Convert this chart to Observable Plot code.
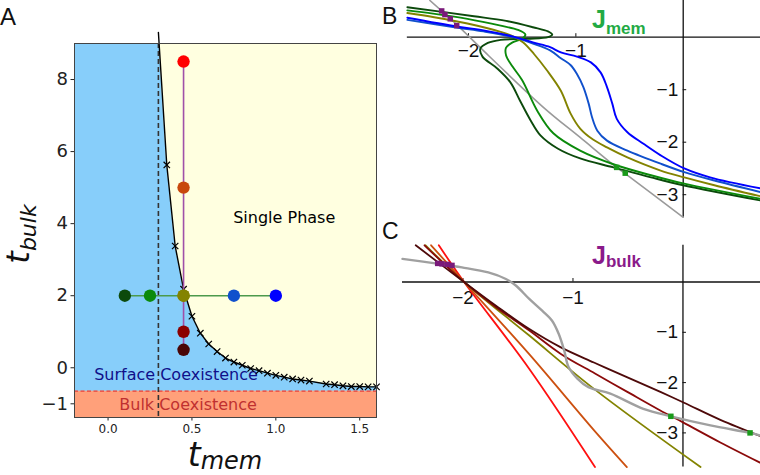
<!DOCTYPE html>
<html><head><meta charset="utf-8">
<script src="https://cdn.jsdelivr.net/npm/d3@7"></script>
<script src="https://cdn.jsdelivr.net/npm/@observablehq/plot@0.6"></script>
<style>
html,body{margin:0;padding:0;background:#fff;}
#fig{position:relative;width:760px;height:475px;overflow:hidden;background:#fff;}
</style></head><body><div id="fig"></div>
<script>
// ---------------- Panel A data ----------------
const xDomainA = [-0.2, 1.6];
const yDomainA = [-1.38, 9];
const xTicksA = [0, 0.5, 1.0, 1.5];
const yTicksA = [-1, 0, 2, 4, 6, 8];
const memCritical = 0.3;      // vertical dashed line
const bulkCritical = -0.65;   // bulk coexistence boundary
const boundaryX = [0.30,0.35,0.40,0.45,0.50,0.55,0.60,0.65,0.70,0.75,0.80,0.85,0.90,0.95,1.00,1.05,1.10,1.15,1.20,1.30,1.35,1.40,1.45,1.50,1.55,1.60];
const boundaryY = [9.31,5.63,3.38,2.18,1.43,0.96,0.66,0.45,0.27,0.16,0.07,-0.02,-0.08,-0.15,-0.21,-0.26,-0.31,-0.34,-0.37,-0.45,-0.47,-0.50,-0.52,-0.52,-0.53,-0.53];
const sweepTbulk = 2;                        // horizontal sweep at t_bulk = 2
const tmemSweep = [0.1, 0.25, 0.45, 0.75, 1.0];
const sweepTmem = 0.45;                      // vertical sweep at t_mem = 0.45
const tbulkSweep = [8.5, 5, 2, 1, 0.5];
const regionLabels = ["Single Phase", "Surface Coexistence", "Bulk Coexistence"];
const regionLabelX = [1.05, 0.405, 0.477];
const regionLabelY = [4.15, -0.19, -1.03];

// ---------------- Panel B data (J_mem) ----------------
const bXTicks = [-2, -1];
const bYTicks = [-1, -2, -3];
const bXRange = [-2.57, 0.72];
const bYRange = [-3.43, 0.70];
const bDarkGreen = [[-2.57,0.57],[-1.95,0.40],[-1.65,0.31],[-1.40,0.19],[-1.26,0.11],[-1.22,0.05],[-1.26,0.00],[-1.45,-0.03],[-1.70,-0.05],[-1.82,-0.11],[-1.89,-0.22],[-1.87,-0.37],[-1.73,-0.60],[-1.61,-0.86],[-1.52,-1.21],[-1.42,-1.59],[-1.33,-1.87],[-1.17,-2.12],[-0.96,-2.31],[-0.65,-2.48],[-0.30,-2.67],[0.00,-2.82],[0.72,-3.11]];
const bGreen = [[-2.57,0.51],[-2.33,0.45],[-2.01,0.35],[-1.70,0.22],[-1.54,0.14],[-1.47,0.05],[-1.50,-0.03],[-1.59,-0.10],[-1.65,-0.20],[-1.65,-0.35],[-1.59,-0.56],[-1.50,-0.82],[-1.36,-1.40],[-1.21,-1.83],[-0.96,-2.16],[-0.65,-2.42],[-0.30,-2.63],[0.01,-2.79],[0.72,-3.08]];
const bOlive = [[-2.57,0.46],[-2.32,0.38],[-2.01,0.26],[-1.70,0.10],[-1.58,0.01],[-1.49,-0.10],[-1.39,-0.32],[-1.27,-0.63],[-1.14,-1.02],[-1.05,-1.45],[-0.96,-1.74],[-0.84,-1.95],[-0.71,-2.10],[-0.52,-2.29],[-0.21,-2.54],[0.01,-2.67],[0.29,-2.82],[0.72,-3.03]];
const bMidBlue = [[-2.57,0.33],[-2.10,0.18],[-1.86,0.11],[-1.58,0.00],[-1.40,-0.12],[-1.24,-0.25],[-1.14,-0.40],[-1.05,-0.53],[-0.99,-0.70],[-0.93,-0.95],[-0.88,-1.27],[-0.85,-1.52],[-0.80,-1.78],[-0.71,-1.97],[-0.52,-2.16],[-0.21,-2.41],[0.01,-2.57],[0.29,-2.73],[0.72,-2.95]];
const bBlue = [[-2.57,0.37],[-2.10,0.20],[-1.86,0.13],[-1.58,0.01],[-1.40,-0.10],[-1.24,-0.19],[-1.14,-0.29],[-0.99,-0.37],[-0.86,-0.48],[-0.77,-0.67],[-0.71,-0.95],[-0.66,-1.27],[-0.62,-1.55],[-0.52,-1.81],[-0.37,-2.03],[-0.21,-2.25],[0.01,-2.50],[0.25,-2.67],[0.72,-2.88]];
const bGray = [[-2.36,0.70],[-2.10,0.22],[-1.89,-0.20],[-1.30,-1.34],[-0.96,-1.91],[-0.62,-2.48],[-0.54,-2.60],[0.00,-3.43]];
const bPurpleSq = [[-2.25,0.50],[-2.22,0.43],[-2.17,0.35],[-2.11,0.22]];
const bGreenSq = [[-0.62,-2.48],[-0.54,-2.59]];

// ---------------- Panel C data (J_bulk) ----------------
const cXTicks = [-2, -1];
const cYTicks = [-1, -2, -3];
const cXRange = [-2.55, 0.705];
const cYRange = [-3.68, 0.73];
const cRed = [[-2.22,0.73],[-1.99,0.00],[-1.40,-1.72],[-0.80,-3.68]];
const cOrange = [[-2.29,0.73],[-1.99,0.00],[-1.40,-1.43],[-0.80,-2.97],[-0.51,-3.68]];
const cOlive = [[-2.34,0.73],[-1.99,0.00],[-1.40,-1.06],[-0.80,-2.14],[0.16,-3.68]];
const cDarkRed = [[-2.35,0.73],[-1.99,0.00],[-1.70,-0.50],[-1.40,-0.96],[-1.11,-1.43],[-0.80,-1.82],[-0.51,-2.18],[-0.21,-2.55],[0.00,-2.79],[0.34,-3.19],[0.70,-3.59]];
const cDarkest = [[-2.43,0.73],[-1.99,0.00],[-1.70,-0.47],[-1.40,-0.93],[-1.11,-1.30],[-0.81,-1.60],[-0.51,-1.89],[-0.20,-2.19],[0.01,-2.40],[0.34,-2.74],[0.70,-3.06]];
const cGray = [[-2.55,0.46],[-2.22,0.36],[-2.01,0.29],[-1.77,0.19],[-1.61,0.06],[-1.52,-0.07],[-1.40,-0.33],[-1.28,-0.57],[-1.19,-0.77],[-1.13,-1.03],[-1.08,-1.36],[-1.04,-1.69],[-0.96,-1.92],[-0.86,-2.09],[-0.66,-2.22],[-0.36,-2.52],[-0.11,-2.67],[0.25,-2.85],[0.61,-3.00],[0.70,-3.05]];
const cPurpleSq = [[-2.23,0.37],[-2.19,0.36],[-2.14,0.35],[-2.10,0.33]];
const cGreenSq = [[-0.11,-2.67],[0.61,-3.00]];

// ---------------- styles ----------------
const tmemColors = ["#0c4a0c", "#0b8a0b", "#838300", "#1050cc", "#0000ff"];
const tbulkColors = ["#ff0000", "#c8480c", "#838300", "#8b0000", "#4a0606"];
const regionColors = ["#000000", "#10108a", "#c03030"];
const bCurveColors = ["#0c4a0c", "#0b8a0b", "#838300", "#1050cc", "#0000ff"];
const cCurveColors = ["#ff1010", "#cc5010", "#838300", "#8b0a0a", "#4e0a0a"];

const fig = document.getElementById("fig");
const place = (svg, left, top) => {
  svg.style.position = "absolute"; svg.style.left = left + "px"; svg.style.top = top + "px";
  svg.style.overflow = "visible"; svg.style.background = "none"; svg.style.maxWidth = "none";
  fig.appendChild(svg);
  return d3.select(svg);
};
const minusFmt = d => d < 0 ? "\u2212" + Math.abs(d) : String(d);

// ---------------- Panel A ----------------
const boundary = boundaryX.map((x, i) => ({x, y: boundaryY[i]}));
const svgA = Plot.plot({
  width: 380, height: 475,
  marginLeft: 74, marginRight: 4, marginTop: 43, marginBottom: 58,
  x: {domain: xDomainA}, y: {domain: yDomainA},
  style: {fontFamily: "DejaVu Sans", color: "#222", background: "none", overflow: "visible"},
  marks: [
    Plot.frame({fill: "#87cefa"}),
    Plot.areaY(boundary, {x: "x", y1: "y", y2: () => yDomainA[1], fill: "#ffffe0", clip: true}),
    Plot.rect([bulkCritical], {x1: () => xDomainA[0], x2: () => xDomainA[1], y1: () => yDomainA[0], y2: d => d, fill: "#ffa07a"}),
    Plot.ruleY([bulkCritical], {stroke: "#e8403c", strokeWidth: 1.2, strokeDasharray: "4,2.5"}),
    Plot.ruleX([memCritical], {stroke: "#333", strokeWidth: 1.6, strokeDasharray: "5,3"}),
    Plot.text(regionLabels, {x: (d, i) => regionLabelX[i], y: (d, i) => regionLabelY[i], text: d => d,
      fill: (d, i) => regionColors[i], fontSize: 16, fontFamily: "DejaVu Sans"}),
    Plot.line(boundary, {x: "x", y: "y", stroke: "black", strokeWidth: 1.4}),
    Plot.dot(boundary.filter(d => d.y <= yDomainA[1]), {x: "x", y: "y", symbol: "times", r: 3, stroke: "black", strokeWidth: 1.2}),
    Plot.line(tbulkSweep, {x: () => sweepTmem, y: d => d, stroke: "#a050a8", strokeWidth: 1.6}),
    Plot.line(tmemSweep, {x: d => d, y: () => sweepTbulk, stroke: "#4c9a4c", strokeWidth: 1.6}),
    Plot.dot(tbulkSweep, {x: () => sweepTmem, y: d => d, r: 6.2, fill: (d, i) => tbulkColors[i]}),
    Plot.dot(tmemSweep, {x: d => d, y: () => sweepTbulk, r: 6.2, fill: (d, i) => tmemColors[i]}),
    Plot.axisX({ticks: xTicksA, tickFormat: d3.format(".1f"), fontSize: 12, tickSize: 3.5, tickPadding: 3, label: null}),
    Plot.axisY({ticks: yTicksA, tickFormat: minusFmt, fontSize: 18, tickSize: 3.5, tickPadding: 3, label: null}),
    Plot.frame({stroke: "#444", strokeWidth: 1})
  ]
});
const sA = place(svgA, 0, 0);
sA.append("text").attr("x", 0).attr("y", 25).attr("text-anchor", "start").attr("font-family", "Liberation Sans, Arial").attr("font-size", 24).attr("fill", "#111").text("A");
const xl = sA.append("text").attr("x", 225).attr("y", 466).attr("text-anchor", "middle")
  .attr("font-family", "DejaVu Sans").attr("font-style", "italic").attr("fill", "#111");
xl.append("tspan").attr("font-size", 33).text("t");
xl.append("tspan").attr("font-size", 24).attr("dy", 3).text("mem");
const yl = sA.append("text").attr("transform", "translate(29,234) rotate(-90)").attr("text-anchor", "middle")
  .attr("font-family", "DejaVu Sans").attr("font-style", "italic").attr("fill", "#111");
yl.append("tspan").attr("font-size", 32).text("t");
yl.append("tspan").attr("font-size", 22).attr("dy", 7).text("bulk");

// ---------------- helpers for B and C ----------------
function centredAxes(xRange, yRange, xTicks, yTicks, labelDy) {
  return [
    Plot.ruleY([0], {x1: () => xRange[0], x2: () => xRange[1], stroke: "#111", strokeWidth: 1.3}),
    Plot.ruleX([0], {y1: () => yRange[0], y2: () => yRange[1], stroke: "#111", strokeWidth: 1.3}),
    Plot.ruleX(xTicks, {x: d => d, y1: () => 0, y2: () => 0, insetTop: -3.5, stroke: "#111"}),
    Plot.ruleY(yTicks, {y: d => d, x1: () => 0, x2: () => 0, insetRight: -3.5, stroke: "#111"}),
    Plot.text(xTicks, {x: d => d, y: () => 0, text: minusFmt, lineAnchor: "top", dy: labelDy, fontSize: 19, fontFamily: "Liberation Sans, Arial", fill: "#111"}),
    Plot.text(yTicks, {x: () => 0, y: d => d, text: minusFmt, textAnchor: "end", dx: -5, fontSize: 19, fontFamily: "Liberation Sans, Arial", fill: "#111"})
  ];
}
const lineOf = (pts, color, w) => Plot.line(pts, {x: d => d[0], y: d => d[1], stroke: color, strokeWidth: w, curve: "catmull-rom"});
const squares = (pts, color) => Plot.dot(pts, {x: d => d[0], y: d => d[1], symbol: "square", r: 3.1, fill: color});

// ---------------- Panel B ----------------
const svgB = Plot.plot({
  width: 380, height: 228, margin: 0,
  x: {domain: [-2.82, 0.72], axis: null}, y: {domain: [-3.644, 0.699], axis: null},
  style: {fontFamily: "Liberation Sans, Arial", background: "none", overflow: "visible"},
  marks: [
    ...centredAxes(bXRange, bYRange, bXTicks, bYTicks, 6),
    lineOf(bGray, "#9a9a9a", 1.6),
    ...[bDarkGreen, bGreen, bOlive, bMidBlue, bBlue].map((c, i) => lineOf(c, bCurveColors[i], 1.9)),
    squares(bPurpleSq, "#7a1a7a"),
    squares(bGreenSq, "#1a9a1a")
  ]
});
const sB = place(svgB, 380, 0);
sB.append("text").attr("x", 2).attr("y", 23.5).attr("text-anchor", "start").attr("font-family", "Liberation Sans, Arial").attr("font-size", 23).attr("fill", "#111").text("B");
const jm = sB.append("text").attr("x", 212).attr("y", 28).attr("text-anchor", "start").attr("font-family", "Liberation Sans, Arial").attr("font-weight", "bold").attr("fill", "#22aa44");
jm.append("tspan").attr("font-size", 25).text("J");
jm.append("tspan").attr("font-size", 17).attr("dy", 6).text("mem");

// ---------------- Panel C ----------------
const svgC = Plot.plot({
  width: 380, height: 245, margin: 0,
  x: {domain: [-2.75, 0.705], axis: null}, y: {domain: [-3.847, 1.024], axis: null},
  style: {fontFamily: "Liberation Sans, Arial", background: "none", overflow: "visible"},
  marks: [
    ...centredAxes(cXRange, cYRange, cXTicks, cYTicks, 8),
    ...[cRed, cOrange, cOlive, cDarkRed, cDarkest].map((c, i) => lineOf(c, cCurveColors[i], 1.8)),
    lineOf(cGray, "#a0a0a0", 2.4),
    squares(cPurpleSq, "#7a1a7a"),
    squares(cGreenSq, "#1a9a1a")
  ]
});
const sC = place(svgC, 380, 230);
sC.append("text").attr("x", 2).attr("y", 8.5).attr("text-anchor", "start").attr("font-family", "Liberation Sans, Arial").attr("font-size", 23).attr("fill", "#111").text("C");
const jb = sC.append("text").attr("x", 212).attr("y", 33.5).attr("text-anchor", "start").attr("font-family", "Liberation Sans, Arial").attr("font-weight", "bold").attr("fill", "#8a1a8a");
jb.append("tspan").attr("font-size", 25).text("J");
jb.append("tspan").attr("font-size", 17).attr("dy", 3).text("bulk");
</script></body></html>
